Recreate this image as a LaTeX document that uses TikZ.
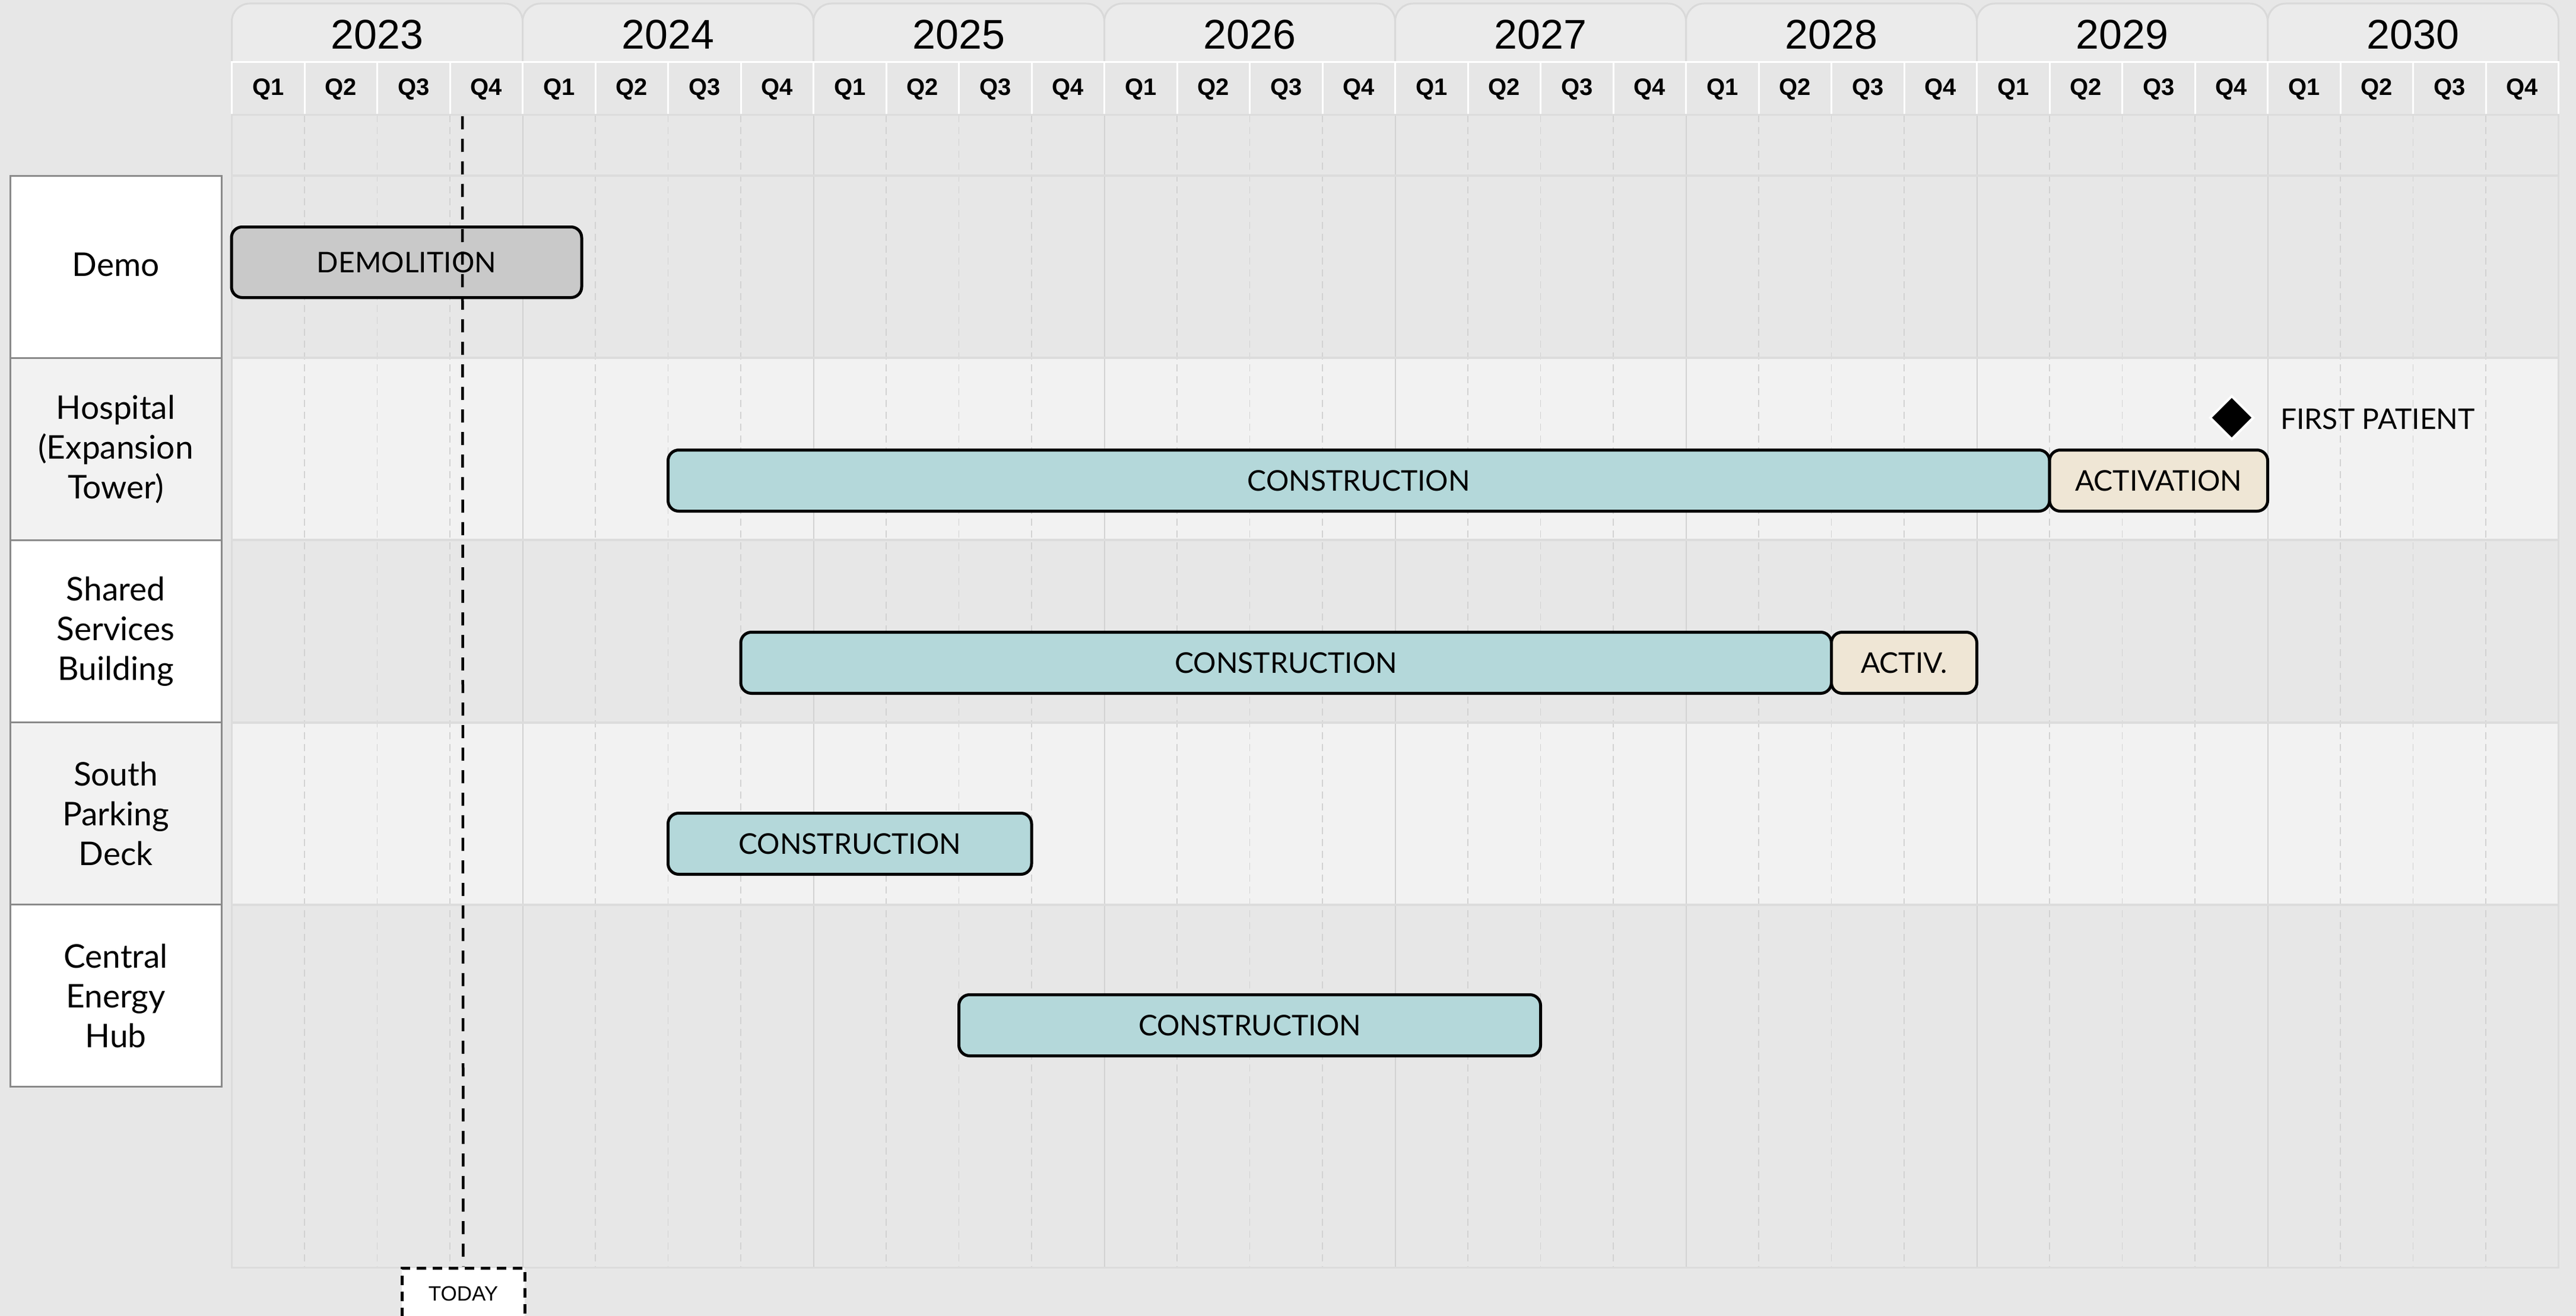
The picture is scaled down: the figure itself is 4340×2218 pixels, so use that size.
\documentclass[tikz,border=0pt]{standalone}
\usepackage{fontspec}
\setmainfont{Lato}
\newfontfamily\hdr{Liberation Sans}
\usetikzlibrary{shapes.geometric}
\definecolor{bg}{HTML}{E7E7E7}
\definecolor{rowlight}{HTML}{F2F2F2}
\definecolor{tabfill}{HTML}{EBEBEB}
\definecolor{tabline}{HTML}{D9D9D9}
\definecolor{qfill}{HTML}{E6E6E6}
\definecolor{gridline}{HTML}{D2D2D2}
\definecolor{sepline}{HTML}{DCDCDC}
\definecolor{lblline}{HTML}{8A8A8A}
\definecolor{constr}{HTML}{B4D8DA}
\definecolor{activ}{HTML}{EFE6D5}
\definecolor{demofill}{HTML}{C9C9C9}
\tikzset{
  yeartab/.style={fill=tabfill, draw=tabline, line width=3},
  qcell/.style={fill=qfill, draw=white, line width=3},
  yearlab/.style={font=\hdr\fontsize{70}{80}\selectfont, inner sep=0},
  qlab/.style={font=\hdr\bfseries\fontsize{40}{46}\selectfont, inner sep=0},
  qline/.style={draw=gridline, line width=1.5, dash pattern=on 12 off 8},
  yline/.style={draw=gridline, line width=2},
  rowsep/.style={draw=sepline, line width=4},
  lblbox/.style={draw=lblline, line width=3, minimum width=356, minimum height=307, align=center, inner sep=0, font=\fontsize{55}{67}\selectfont},
  bar/.style={draw=black, line width=5, rounded corners=18, minimum height=103, inner sep=0, font=\fontsize{48}{56}\selectfont},
  todayline/.style={draw=black, line width=4.5, dash pattern=on 22 off 16},
  todaybox/.style={draw=black, fill=white, line width=5, dash pattern=on 16 off 11, minimum width=207, minimum height=86, inner sep=0, font=\hdr\fontsize{35}{40}\selectfont},
}
\begin{document}
\begin{tikzpicture}[x=1pt,y=-1pt]
\useasboundingbox (0,0) rectangle (4340,2218);
\fill[bg] (0,0) rectangle (4340,2218);

% year tabs
\foreach \yr [count=\j from 0] in {2023,2024,2025,2026,2027,2028,2029,2030}{
  \pgfmathsetmacro\xa{390.5+490*\j}
  \pgfmathsetmacro\xb{390.5+490*(\j+1)}
  \pgfmathsetmacro\xm{390.5+490*\j+245}
  \filldraw[yeartab] (\xa,105) [rounded corners=30] -- (\xa,6) -- (\xb,6) -- (\xb,105);
  \node[yearlab] (y\yr) at (\xm,58) {\yr};
}
% quarter row
\foreach \i in {0,...,31}{
  \pgfmathsetmacro\xa{390.5+122.5*\i}
  \pgfmathsetmacro\xm{390.5+122.5*\i+61.25}
  \pgfmathtruncatemacro\q{mod(\i,4)+1}
  \draw[qcell] (\xa,105) rectangle ++(122.5,89);
  \node[qlab] (q\i) at (\xm,150) {Q\q};
}

% grid area and row fills
\fill[rowlight] (390.5,603.2) rectangle (4310.5,910.4);
\fill[rowlight] (390.5,1217.6) rectangle (4310.5,1524.8);

% vertical grid lines
\foreach \i in {1,...,31}{
  \pgfmathsetmacro\xa{390.5+122.5*\i}
  \pgfmathtruncatemacro\r{mod(\i,4)}
  \ifnum\r=0
    \draw[yline] (\xa,194) -- (\xa,2136);
  \else
    \draw[qline] (\xa,194) -- (\xa,2136);
  \fi
}
% row separators
\foreach \k in {0,...,4}{
  \pgfmathsetmacro\yy{296+307.2*\k}
  \draw[rowsep] (390.5,\yy) -- (4310.5,\yy);
}
\draw[draw=sepline, line width=3] (390.5,194) rectangle (4310.5,2136);

% row labels
\node[lblbox, fill=white]    (ldemo) at (195,449.6)  {\raisebox{8pt}{Demo}};
\node[lblbox, fill=rowlight] (lhosp) at (195,756.8)  {Hospital\\(Expansion\\Tower)};
\node[lblbox, fill=white]    (lshar) at (195,1064)   {Shared\\Services\\Building};
\node[lblbox, fill=rowlight] (lpark) at (195,1371.2) {South\\Parking\\Deck};
\node[lblbox, fill=white]    (lcent) at (195,1678.4) {Central\\Energy\\Hub};

% bars
\node[bar, fill=demofill, minimum width=590, minimum height=119] (demo) at (685,442) {DEMOLITION};
\node[bar, fill=constr, minimum width=2327.5] (hcon) at (2289.25,810) {CONSTRUCTION};
\node[bar, fill=activ, minimum width=367.5] (hact) at (3636.75,810) {ACTIVATION};
\node[bar, fill=constr, minimum width=1837.5] (scon) at (2166.75,1117) {CONSTRUCTION};
\node[bar, fill=activ, minimum width=245] (sact) at (3208,1117) {ACTIV.};
\node[bar, fill=constr, minimum width=612.5] (pcon) at (1431.75,1422) {CONSTRUCTION};
\node[bar, fill=constr, minimum width=980] (ccon) at (2105.5,1728) {CONSTRUCTION};

% milestone
\node[diamond, fill=black, draw=white, line width=4, minimum width=74, minimum height=74, inner sep=0] (fp) at (3760,704) {};
\node[anchor=west, inner sep=0, font=\fontsize{48}{56}\selectfont] (fptext) at (3842,706) {FIRST PATIENT};

% today marker
\coordinate (ttop) at (779,196);
\node[todaybox] (today) at (780.5,2180) {TODAY};
\draw[todayline] (ttop) -- (today.north);
\end{tikzpicture}
\end{document}
